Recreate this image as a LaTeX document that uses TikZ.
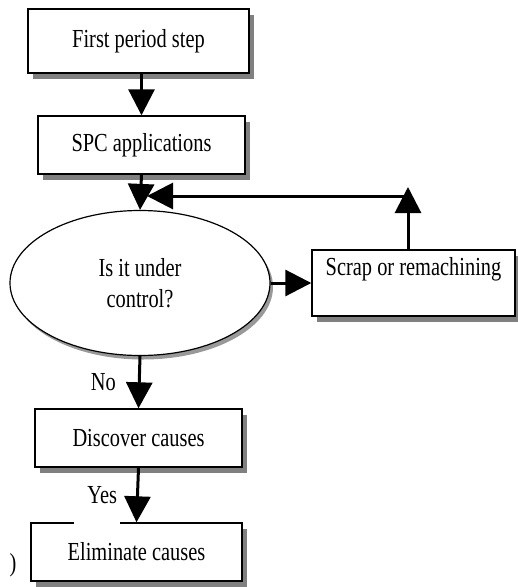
\documentclass[tikz,border=0pt]{standalone}
\usepackage{fontspec}
\setmainfont{Liberation Serif}
\usetikzlibrary{positioning, shapes.geometric, shadows, arrows.meta}

% scanned text is a little taller than it is wide
\newcommand\tallt[1]{\scalebox{1.02}[1.3]{#1}}

\tikzset{
  stepbox/.style={rectangle, draw, line width=1.4pt, fill=white, inner sep=0pt,
    font=\fontsize{20}{26}\selectfont, align=center,
    drop shadow={shadow xshift=5pt, shadow yshift=-6pt, fill=black!50, opacity=1}},
  askoval/.style={ellipse, draw, line width=1.2pt, fill=white, inner sep=0pt,
    minimum width=260pt, minimum height=145pt,
    font=\fontsize{20}{31}\selectfont, align=center,
    drop shadow={shadow xshift=3pt, shadow yshift=-4pt, fill=black!40, opacity=1}},
  flowarr/.style={line width=3pt, -{Triangle[width=26pt,length=26pt]}},
  tag/.style={font=\fontsize{20}{24}\selectfont, inner sep=0pt}
}

\begin{document}
\begin{tikzpicture}[x=1pt, y=-1pt]
            \useasboundingbox (0,0) rectangle (518,587);

            \node[stepbox, minimum width=221pt, minimum height=64pt] (first) at (138.5, 41) {\tallt{First period step}};
            \node[stepbox, minimum width=207pt, minimum height=58pt] (spc) at (141.5, 145) {\tallt{SPC applications}};
            \node[askoval] (ctrl) at (140, 283) {\tallt{Is it under}\\\tallt{control?}};
            \node[stepbox, minimum width=203pt, minimum height=66pt] (scrap) at (413.5, 283) {\tallt{Scrap or remachining}\\\strut};
            \node[stepbox, minimum width=207pt, minimum height=58pt] (disc) at (138.5, 438) {\tallt{Discover causes}};
            \node[stepbox, minimum width=211pt, minimum height=58pt] (elim) at (136.5, 552) {\tallt{Eliminate causes}};

            \coordinate (turn) at (408, 196);
            \coordinate (join) at (147, 196);
            \coordinate (top) at (408, 187);

            \draw[flowarr] (spc.north |- first.south) -- (spc.north);
            \draw[flowarr] (spc.south) -- (ctrl.north);
            \draw[flowarr] (ctrl.east) -- (scrap.west);
            \draw[flowarr] ([xshift=-5.5pt]scrap.north) -- (top);
            \draw[flowarr] (turn) -- (join);
            \draw[flowarr] (ctrl.south) -- node[tag, left=22pt, pos=0.5] {\tallt{No}} (disc.north);
            \draw[flowarr] (disc.south) -- node[tag, left=19pt, pos=0.5] {\tallt{Yes}} (elim.north);

            % gap in the top edge of the last box
            \draw[white, line width=2pt] (74, 523) -- (120, 523);

            \node[tag] (mark) at (13, 565) {\tallt{)}};
        \end{tikzpicture}
\end{document}
